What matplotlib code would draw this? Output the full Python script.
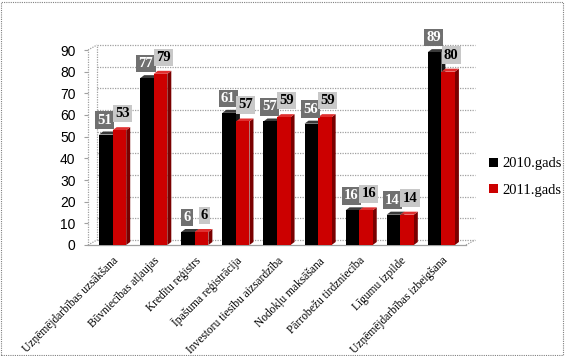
import matplotlib
matplotlib.use("Agg")
import matplotlib.pyplot as plt
from matplotlib.patches import Polygon, Rectangle, Patch
from matplotlib.transforms import offset_copy, IdentityTransform
import numpy as np

categories = ["Uzņēmējdarbības uzsākšana", "Būvniecības atļaujas", "Kredītu reģistrs",
              "Īpašuma reģistrācija", "Investoru tiesību aizsardzība", "Nodokļu maksāšana",
              "Pārrobežu tirdzniecība", "Līgumu izpilde", "Uzņēmējdarbības izbeigšana"]
series_names = ["2010.gads", "2011.gads"]
values_2010 = [51, 77, 6, 61, 57, 56, 16, 14, 89]
values_2011 = [53, 79, 6, 57, 59, 59, 16, 14, 80]
yticks = [0, 10, 20, 30, 40, 50, 60, 70, 80, 90]

W, H = 565, 356
fig = plt.figure(figsize=(W / 100, H / 100), dpi=100)
fig.patch.set_facecolor("white")
ax = fig.add_axes([88 / W, 111 / H, 378 / W, 195 / H])
ax.set_xlim(-0.6, 8.6)
ax.set_ylim(0, 90)
ax.patch.set_alpha(0)
for s in ax.spines.values():
    s.set_visible(False)

DX, DY = 9, 5  # back wall offset (pixels)
back = offset_copy(ax.transData, fig=fig, x=DX, y=DY, units="dots")
grid_col = "#a0a0a0"
for t in yticks:
    ax.plot([-0.6, 8.6], [t, t], transform=back, color=grid_col, lw=0.9, ls=(0, (1, 1)), zorder=1, clip_on=False)
ax.plot([-0.6, -0.6], [0, 90], transform=back, color=grid_col, lw=0.9, ls=(0, (1, 1)), clip_on=False, zorder=1)
ax.plot([-0.6, -0.6], [0, 90], color=grid_col, lw=0.9, ls=(0, (1, 1)), clip_on=False, zorder=1)

fig.canvas.draw()
td = ax.transData

def pt(x, y):
    return td.transform((x, y))

for (xx, yy) in [(-0.6, 90), (-0.6, 0), (8.6, 0)]:
    p = pt(xx, yy)
    ax.add_line(plt.Line2D([p[0], p[0] + DX], [p[1], p[1] + DY], transform=IdentityTransform(),
                           color=grid_col, lw=0.9, ls=(0, (1, 1)), clip_on=False, zorder=1))
ax.plot([-0.6, 8.6], [0, 0], color=grid_col, lw=0.9, clip_on=False, zorder=1)

bw = 0.33
x = np.arange(len(categories))
d_side, d_top = 4, 3

def bar3d(xl, h, front, side, top, z):
    p0 = pt(xl, 0); p1 = pt(xl + bw, h)
    x0, y0, x1, y1 = p0[0], p0[1], p1[0], p1[1]
    side_poly = Polygon([(x1, y0), (x1 + d_side, y0 + d_top), (x1 + d_side, y1 + d_top), (x1, y1)],
                        closed=True, transform=IdentityTransform(), facecolor=side, edgecolor="none",
                        zorder=z, clip_on=False)
    top_poly = Polygon([(x0, y1), (x0 + d_side, y1 + d_top), (x1 + d_side, y1 + d_top), (x1, y1)],
                       closed=True, transform=IdentityTransform(), facecolor=top, edgecolor="none",
                       zorder=z, clip_on=False)
    ax.add_patch(side_poly); ax.add_patch(top_poly)
    ax.bar(xl, h, width=bw, align="edge", color=front, zorder=z + 0.5, edgecolor="none")

for i in range(len(categories)):
    bar3d(x[i] - bw, values_2010[i], "#000000", "#1a1a1a", "#3a3a3a", 3)
    bar3d(x[i], values_2011[i], "#cc0000", "#7a0000", "#e03030", 4)

for i in range(len(categories)):
    ax.annotate(str(values_2010[i]), (x[i] - bw / 2, values_2010[i]), xytext=(-1, 8),
                textcoords="offset pixels", ha="center", va="bottom", fontsize=10.5, fontweight="bold",
                family="Liberation Serif", color="white", zorder=10,
                bbox=dict(boxstyle="square,pad=0.15", fc="#707070", ec="none"))
    ax.annotate(str(values_2011[i]), (x[i] + bw / 2, values_2011[i]), xytext=(3, 10),
                textcoords="offset pixels", ha="center", va="bottom", fontsize=10.5, fontweight="bold",
                family="Liberation Serif", color="black", zorder=10,
                bbox=dict(boxstyle="square,pad=0.15", fc="#c8c8c8", ec="none"))

ax.set_yticks(yticks)
ax.set_yticklabels([str(t) for t in yticks], family="Liberation Sans", fontsize=10)
ax.tick_params(axis="y", length=3, color=grid_col, pad=6)
ax.set_xticks(x)
ax.set_xticklabels(categories, rotation=45, ha="right", rotation_mode="anchor",
                   family="Liberation Serif", fontsize=8.3)
ax.tick_params(axis="x", length=0, pad=7)

handles = [Patch(facecolor="#000000"), Patch(facecolor="#cc0000")]
fig.legend(handles, series_names, loc="center left", bbox_to_anchor=(476 / W, 1 - 177 / H),
           frameon=False, prop={"family": "Liberation Serif", "size": 10.5},
           handlelength=0.6, handleheight=0.6, handletextpad=0.3, labelspacing=0.9)

fig.add_artist(Rectangle((1 / W, 1 / H), (W - 3) / W, (H - 3) / H, transform=fig.transFigure,
                         fill=False, ec="#808080", lw=0.8, ls=(0, (1, 1))))

fig.savefig("out.png", dpi=100)
